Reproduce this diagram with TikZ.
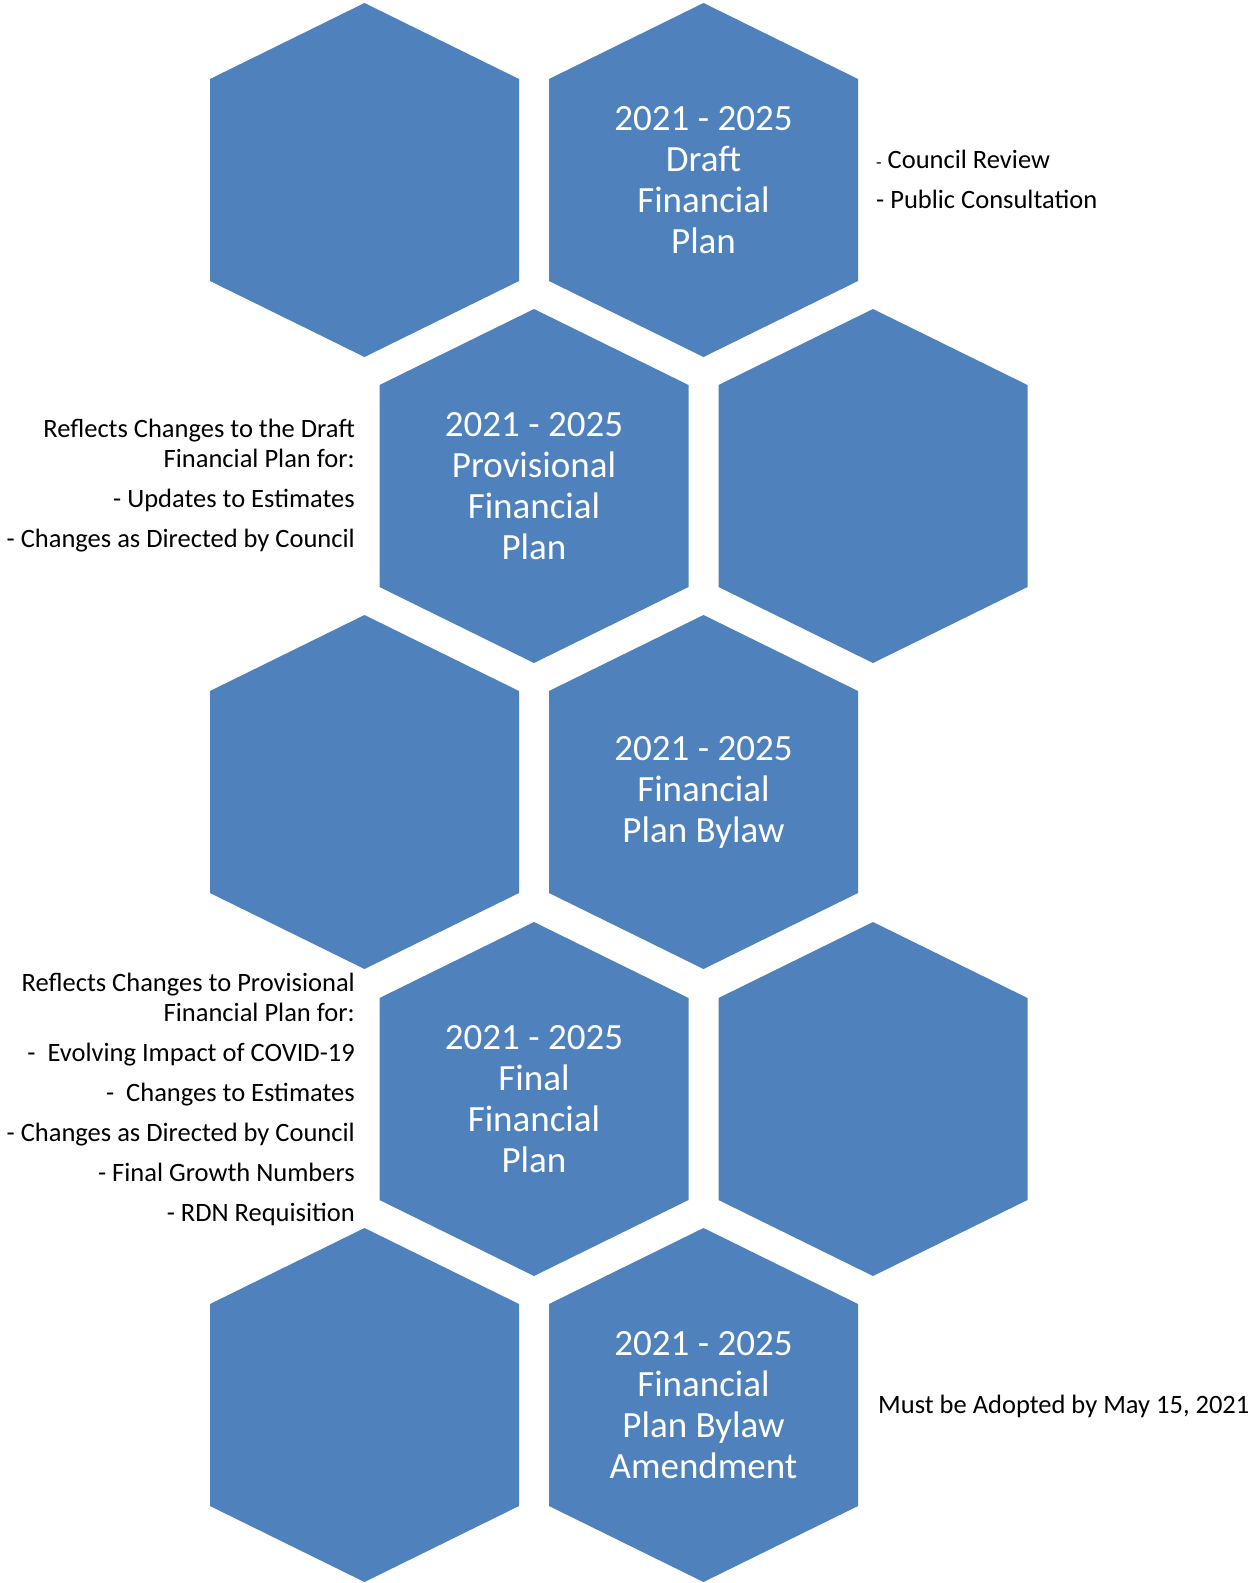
\documentclass[tikz,border=0pt]{standalone}
\usepackage{fontspec}
\setmainfont{Carlito}
\usepackage{tikz}
\usetikzlibrary{positioning}
\definecolor{hexblue}{RGB}{79,129,189}

\begin{document}
\begin{tikzpicture}[
  x=1pt, y=-1pt,
  every node/.style={inner sep=0pt},
  hexfill/.style={fill=hexblue},
  hextext/.style={text=white,align=center,font=\fontsize{37}{41}\selectfont},
  sidetext/.style={text=black,font=\fontsize{26.5}{30}\selectfont},
]
  \useasboundingbox (0,0) rectangle (1251,1583);

  % Honeycomb: two cells per row, rows shifted by half a cell
  \foreach \cx/\cy in {364.5/180, 703.5/180, 534/486, 873/486,
                       364.5/792, 703.5/792, 534/1099, 873/1099,
                       364.5/1405, 703.5/1405}
    \fill[hexfill] (\cx,\cy) +(0,-177) -- +(154.5,-101) -- +(154.5,101)
      -- +(0,177) -- +(-154.5,101) -- +(-154.5,-101) -- cycle;

  % Stage labels
  \node[hextext] (draft) at (703.5,180) {2021 - 2025\\Draft\\Financial\\Plan};
  \node[hextext] (prov) at (534,486) {2021 - 2025\\Provisional\\Financial\\Plan};
  \node[hextext] (bylaw) at (703.5,792) {2021 - 2025\\Financial\\Plan Bylaw};
  \node[hextext] (final) at (534,1099) {2021 - 2025\\Final\\Financial\\Plan};
  \node[hextext] (amend) at (703.5,1405) {2021 - 2025\\Financial\\Plan Bylaw\\Amendment};

  % Notes beside the cells
  \node[sidetext,align=left,anchor=west] (draftnote) at (876,179)
    {{\fontsize{18}{30}\selectfont-} Council Review\\[10pt]- Public Consultation};
  \node[sidetext,align=right,anchor=east] (provnote) at (355,486)
    {Reflects Changes to the Draft\\Financial Plan for:\\[10pt]
     - Updates to Estimates\\[10pt]- Changes as Directed by Council};
  \node[sidetext,align=right,anchor=east] (finalnote) at (355,1099)
    {Reflects Changes to Provisional\\Financial Plan for:\\[10pt]
     -\ \ Evolving Impact of COVID-19\\[10pt]
     -\ \ Changes to Estimates\\[10pt]
     - Changes as Directed by Council\\[10pt]
     - Final Growth Numbers\\[10pt]
     - RDN Requisition};
  \node[sidetext,anchor=west] (amendnote) at (878,1406) {Must be Adopted by May 15, 2021};
\end{tikzpicture}
\end{document}
